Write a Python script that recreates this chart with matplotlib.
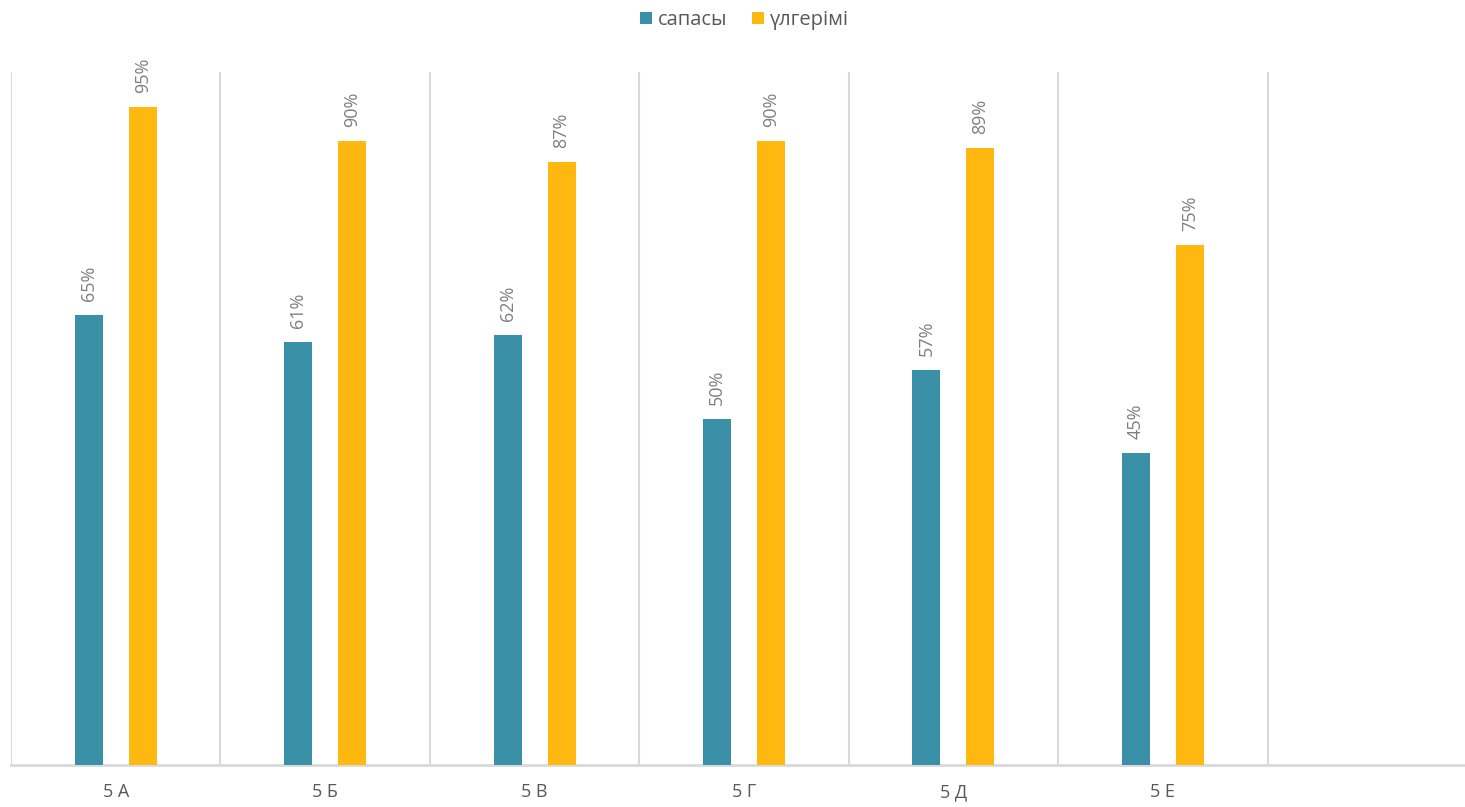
import numpy as np
import matplotlib.pyplot as plt

plt.rcParams['font.family'] = ['Open Sans', 'DejaVu Sans']

categories = ['5 А', '5 Б', '5 В', '5 Г', '5 Д', '5 Е', '']
sapasy = [65, 61, 62, 50, 57, 45]
ulgerimi = [95, 90, 87, 90, 89, 75]
series_names = ['сапасы', 'үлгерімі']
colors = ['#3A91A7', '#FFB80F']

fig = plt.figure(figsize=(14.65, 8.07), dpi=100)
# axes spans 7 slots, the last one runs a bit past the right edge
ax = fig.add_axes([11/1465, 1 - 765/807, 1466/1465, (765-72)/807])

x = np.arange(len(sapasy))
w = 0.134
off = 0.129
b1 = ax.bar(x - off, sapasy, w, color=colors[0], label=series_names[0], zorder=3)
b2 = ax.bar(x + off, ulgerimi, w, color=colors[1], label=series_names[1], zorder=3)

for bars, vals in [(b1, sapasy), (b2, ulgerimi)]:
    for r, v in zip(bars, vals):
        ax.annotate(f'{v}%', (r.get_x() + r.get_width()/2, r.get_height()),
                    xytext=(0, 10), textcoords='offset points', rotation=90,
                    ha='center', va='bottom', fontsize=13, color='#7F7F7F')

ax.set_xlim(-0.5, len(categories) - 0.5)
ax.set_ylim(0, 100)
ax.set_xticks(np.arange(len(categories)))
ax.set_xticklabels(categories, fontsize=13, color='#595959')
ax.tick_params(axis='x', length=0, pad=13)
ax.set_yticks([])

for b in np.arange(-0.5, len(categories) + 0.5, 1.0):
    ax.axvline(b, color='#D9D9D9', lw=1.5, zorder=1)

for s in ['top', 'right', 'left']:
    ax.spines[s].set_visible(False)
ax.spines['bottom'].set_color('#D9D9D9')
ax.spines['bottom'].set_linewidth(2)

fig.legend(loc='center', bbox_to_anchor=(0.508, 1 - 20/807), ncol=2, frameon=False,
           fontsize=14.5, labelcolor='#595959', handlelength=0.6, handleheight=0.6,
           handletextpad=0.3, columnspacing=1.2)

fig.savefig('out.png', dpi=100)
